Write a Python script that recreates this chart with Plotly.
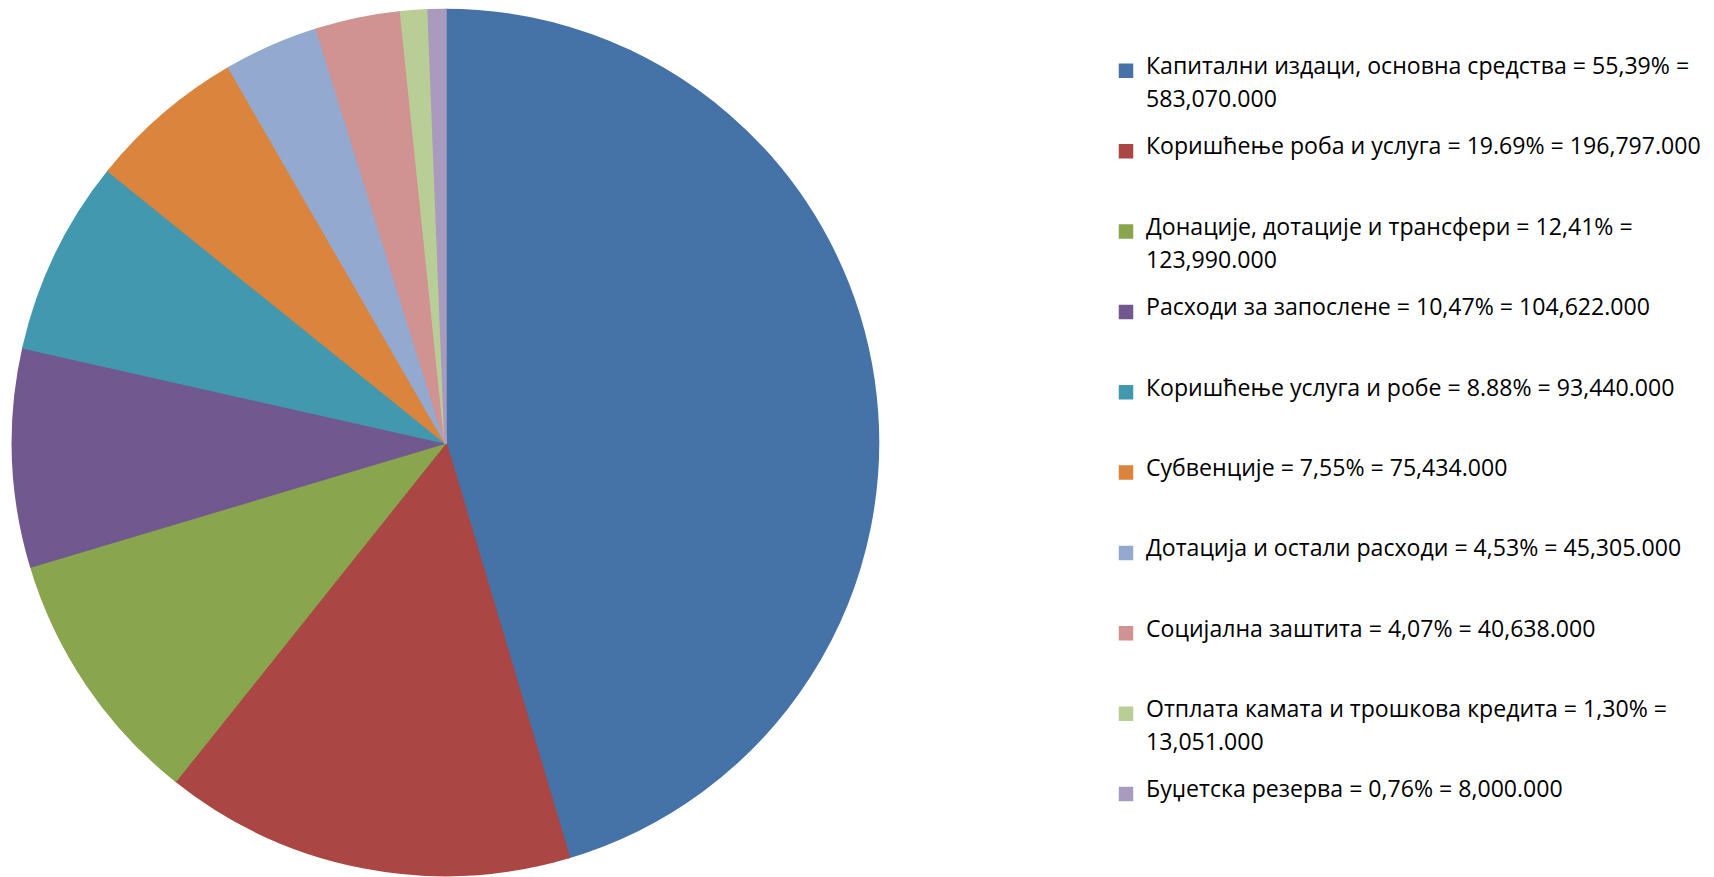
import plotly.graph_objects as go

# ---- data ----
categories = [
    "Капитални издаци, основна средства",
    "Коришћење роба и услуга",
    "Донације, дотације и трансфери",
    "Расходи за запослене",
    "Коришћење услуга и робе",
    "Субвенције",
    "Дотација и остали расходи",
    "Социјална заштита",
    "Отплата камата и трошкова кредита",
    "Буџетска резерва",
]
percent_labels = ["55,39%", "19.69%", "12,41%", "10,47%", "8.88%",
                  "7,55%", "4,53%", "4,07%", "1,30%", "0,76%"]
amount_labels = ["583,070.000", "196,797.000", "123,990.000", "104,622.000", "93,440.000",
                 "75,434.000", "45,305.000", "40,638.000", "13,051.000", "8,000.000"]
values = [583070, 196797, 123990, 104622, 93440, 75434, 45305, 40638, 13051, 8000]
wrapped = [True, False, True, False, False, False, False, False, True, False]

colors = ["#4572A7", "#AA4643", "#89A54E", "#71588F", "#4198AF",
          "#DB843D", "#93A9CF", "#D19392", "#B9CD96", "#A99BBD"]

# ---- legend text (real text, sized spans; blank lines set item spacing) ----
TEXT_PX = 23.1
UNIT = 11.05             # legend base line height (px)
BASE_FONT = UNIT / 1.3
LINE_UNITS = 3           # line spacing inside an entry, in units
ITEM_UNITS = 7           # entry height, in units
NBSP = "\u00a0"


def span(t):
    return f'<span style="font-size:{TEXT_PX}px">{t}{NBSP * 2}</span>'


legend_labels = []
plain_labels = []
for cat, pct, amt, wr in zip(categories, percent_labels, amount_labels, wrapped):
    if wr:
        lines = [span(f"{cat} = {pct} ="), *([" "] * (LINE_UNITS - 1)), span(amt)]
    else:
        lines = [span(f"{cat} = {pct} = {amt}")]
    lines += [" "] * (ITEM_UNITS - len(lines))
    legend_labels.append("<br>".join(lines))
    plain_labels.append(f"{cat} = {pct} = {amt}")

W, H = 1714, 877
# the page body adds an 8px offset, so positions are given 8px up/left
pie_left, pie_right, pie_top, pie_bottom = 4, 871, 2, 867

fig = go.Figure(
    go.Pie(
        labels=legend_labels,
        values=values,
        customdata=plain_labels,
        hovertemplate="%{customdata}<extra></extra>",
        sort=False,
        direction="clockwise",
        rotation=0,
        textinfo="none",
        marker=dict(colors=colors, line=dict(color=colors, width=2.5)),
        domain=dict(x=[pie_left / W, pie_right / W],
                    y=[1 - pie_bottom / H, 1 - pie_top / H]),
    )
)

fig.update_layout(
    width=W,
    height=H,
    margin=dict(l=0, r=0, t=0, b=0, autoexpand=False),
    paper_bgcolor="white",
    plot_bgcolor="white",
    font=dict(family="Open Sans, Noto Sans, sans-serif", color="#000000"),
    showlegend=True,
    legend=dict(
        title=dict(text=" ", font=dict(size=16)),
        x=1098 / W,
        xanchor="left",
        y=1 - 30 / H,
        yanchor="top",
        valign="top",
        font=dict(size=BASE_FONT, color="#000000",
                  family="Open Sans, Noto Sans, sans-serif"),
        bgcolor="rgba(0,0,0,0)",
        borderwidth=0,
        traceorder="normal",
    ),
)

fig.write_html("out.html")
